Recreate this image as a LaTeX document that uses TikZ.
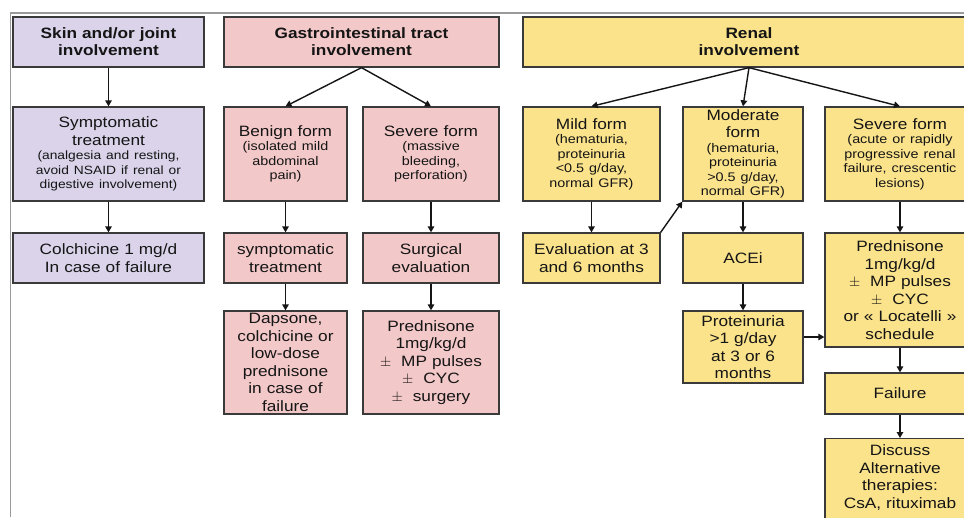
\documentclass[tikz,border=0pt]{standalone}
\usepackage{fontspec}
\setmainfont[FakeStretch=1.15]{Liberation Sans}
\usetikzlibrary{arrows.meta,calc}
\definecolor{lav}{HTML}{DAD3EA}
\definecolor{pnk}{HTML}{F3C8C8}
\definecolor{yel}{HTML}{FBE38B}
\definecolor{edgec}{HTML}{3A3A3A}
\definecolor{ink}{HTML}{151515}
\definecolor{framec}{HTML}{9A9A9A}
\newcommand\smalltxt[1]{{\fontsize{12.5}{14.5}\selectfont #1\par}}
\newcommand\skintxt[1]{{\fontsize{12}{14.5}\selectfont #1\par}}
\begin{document}
\begin{tikzpicture}[x=1pt,y=-1pt,
  box/.style={draw=edgec,line width=1.3pt,inner sep=0pt,align=center,text=ink,
    font=\fontsize{15}{17.5}\selectfont},
  head/.style={box,font=\fontsize{15}{17}\selectfont\bfseries},
  arr/.style={draw=ink,line width=1.4pt,-{Triangle[length=6pt,width=6.5pt]}}]
\useasboundingbox (0,0) rectangle (964,517);
\clip (0,0) rectangle (964,517);
\fill[white] (0,0) rectangle (964,517);
\draw[framec,line width=1.5pt] (10.5,517) -- (10.5,13) -- (964,13);

% Skin column
\node[head,fill=lav,minimum width=191pt,minimum height=50pt,text width=185pt] (skin) at (108.5,42) {Skin and/or joint\\involvement};
\node[box,fill=lav,minimum width=191pt,minimum height=94pt,text width=187pt] (sympt) at (108.5,154)
  {Symptomatic\\treatment\par\skintxt{(analgesia and resting,\\avoid NSAID if renal or\\digestive involvement)}};
\node[box,fill=lav,minimum width=191pt,minimum height=50pt,text width=185pt] (colch) at (108.5,258) {Colchicine 1 mg/d\\In case of failure};

% GI column
\node[head,fill=pnk,minimum width=275pt,minimum height=50pt,text width=269pt] (gi) at (361.5,42) {Gastrointestinal tract\\involvement};
\node[box,fill=pnk,minimum width=123pt,minimum height=94pt,text width=121pt] (benign) at (285.5,154)
  {Benign form\par\smalltxt{(isolated mild\\abdominal\\pain)}};
\node[box,fill=pnk,minimum width=136pt,minimum height=94pt,text width=132pt] (sevgi) at (431,154)
  {Severe form\par\smalltxt{(massive\\bleeding,\\perforation)}};
\node[box,fill=pnk,minimum width=123pt,minimum height=50pt,text width=121pt] (symtr) at (285.5,258) {symptomatic\\treatment};
\node[box,fill=pnk,minimum width=136pt,minimum height=50pt,text width=132pt] (surg) at (431,258) {Surgical\\evaluation};
\node[box,fill=pnk,minimum width=123pt,minimum height=103pt,text width=121pt] (dap) at (285.5,362.5)
  {Dapsone,\\colchicine or\\low-dose\\prednisone\\in case of\\failure};
\node[box,fill=pnk,minimum width=136pt,minimum height=103pt,text width=132pt] (predgi) at (431,362.5)
  {Prednisone\\1mg/kg/d\\$\pm$\ \ MP pulses\\$\pm$\ \ CYC\\$\pm$\ \ surgery};

% Renal column
\node[head,fill=yel,minimum width=452pt,minimum height=50pt,text width=440pt] (renal) at (749,42) {Renal\\involvement};
\node[box,fill=yel,minimum width=137pt,minimum height=94pt,text width=133pt] (mild) at (591.5,154)
  {Mild form\par\smalltxt{(hematuria,\\proteinuria\\<0.5 g/day,\\normal GFR)}};
\node[box,fill=yel,minimum width=120pt,minimum height=94pt,text width=118pt] (mod) at (743,154)
  {Moderate\\form\par\smalltxt{(hematuria,\\proteinuria\\>0.5 g/day,\\normal GFR)}};
\node[box,fill=yel,minimum width=150pt,minimum height=94pt,text width=140pt] (sevr) at (900,154)
  {Severe form\par\smalltxt{(acute or rapidly\\progressive renal\\failure, crescentic\\lesions)}};
\node[box,fill=yel,minimum width=137pt,minimum height=50pt,text width=133pt] (eval) at (591.5,258) {Evaluation at 3\\and 6 months};
\node[box,fill=yel,minimum width=120pt,minimum height=50pt,text width=116pt] (acei) at (743,258) {ACEi};
\node[box,fill=yel,minimum width=150pt,minimum height=114pt,text width=140pt] (predr) at (900,290)
  {Prednisone\\1mg/kg/d\\$\pm$\ \ MP pulses\\$\pm$\ \ CYC\\or « Locatelli »\\schedule};
\node[box,fill=yel,minimum width=120pt,minimum height=72pt,text width=116pt] (prot) at (743,347)
  {Proteinuria\\>1 g/day\\at 3 or 6\\months};
\node[box,fill=yel,minimum width=150pt,minimum height=41pt,text width=140pt] (fail) at (900,393.5) {Failure};
\node[box,fill=yel,minimum width=150pt,minimum height=100pt,text width=140pt,anchor=north] (disc) at (900,438)
  {Discuss\\Alternative\\therapies:\\CsA, rituximab\par\vspace*{22pt}};

% connectors
\draw[arr] (skin) -- (sympt);
\draw[arr] (sympt) -- (colch);
\draw[arr] (gi.south) -- (benign.north);
\draw[arr] (gi.south) -- (sevgi.north);
\draw[arr] (benign) -- (symtr);
\draw[arr] (symtr) -- (dap);
\draw[arr] (sevgi) -- (surg);
\draw[arr] (surg) -- (predgi);
\draw[arr] (renal.south) -- (mild.north);
\draw[arr] (renal.south) -- (mod.north);
\draw[arr] (renal.south) -- (sevr.north);
\draw[arr] (mild) -- (eval);
\draw[arr] (eval.north east) -- (mod.south west);
\draw[arr] (mod) -- (acei);
\draw[arr] (acei) -- (prot);
\draw[arr] ([yshift=10pt]prot.east) -- ([yshift=10pt]prot.east -| predr.west);
\draw[arr] (sevr.south) -- (predr.north);
\draw[arr] (predr) -- (fail);
\draw[arr] (fail) -- (disc.north);
\end{tikzpicture}
\end{document}
